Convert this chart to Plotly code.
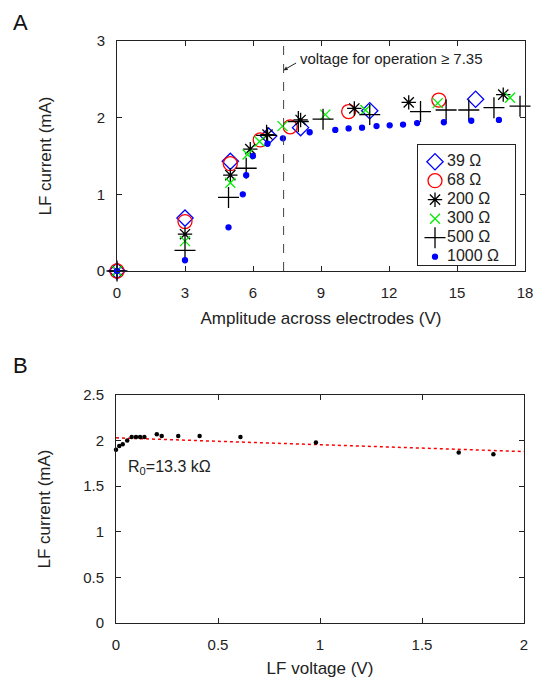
import plotly.graph_objects as go

# Panel A: LF current vs amplitude across electrodes, per load resistor
x_39 = [0, 3, 5, 6.69, 8.1, 11.15, 15.82]
y_39 = [0, 0.69, 1.43, 1.76, 1.87, 2.09, 2.24]

x_68 = [0, 3, 5, 6.32, 7.64, 10.22, 14.2]
y_68 = [0, 0.645, 1.40, 1.71, 1.88, 2.08, 2.23]

x_200 = [0, 3, 5, 5.88, 6.64, 8.1, 10.47, 12.87, 17.04]
y_200 = [0, 0.48, 1.25, 1.59, 1.78, 1.97, 2.12, 2.20, 2.30]

x_300 = [0, 3, 5, 5.76, 6.29, 7.3, 9.19, 10.96, 14.15, 17.34]
y_300 = [0, 0.39, 1.15, 1.52, 1.69, 1.89, 2.04, 2.10, 2.19, 2.26]

x_500 = [0, 3, 4.92, 5.7, 6.6, 8.0, 9.09, 11.15, 13.39, 14.52, 15.52, 16.63, 17.78]
y_500 = [0, 0.27, 0.96, 1.34, 1.77, 1.95, 1.98, 2.04, 2.08, 2.10, 2.10, 2.13, 2.15]

x_1000 = [0, 3, 4.92, 5.55, 5.7, 6.0, 6.64, 7.32, 8.5, 9.63, 10.22, 10.81,
          11.45, 12.03, 12.62, 13.24, 14.42, 15.63, 16.85]
y_1000 = [0, 0.14, 0.57, 1.00, 1.25, 1.50, 1.66, 1.73, 1.81, 1.84, 1.86, 1.87,
          1.89, 1.90, 1.91, 1.93, 1.94, 1.96, 1.97]

threshold = 7.35

# Panel B: LF current vs LF voltage
lf_v = [0, 0.016, 0.033, 0.055, 0.077, 0.098, 0.118, 0.139, 0.2, 0.224,
        0.305, 0.41, 0.61, 0.98, 1.68, 1.85]
lf_i = [1.90, 1.94, 1.96, 2.00, 2.04, 2.04, 2.04, 2.04, 2.07, 2.05,
        2.05, 2.05, 2.04, 1.98, 1.87, 1.85]
fit_v = [0, 2]
fit_i = [2.03, 1.88]

FONT = "Liberation Sans, Arial, sans-serif"

series = [
    ("39 Ω", x_39, y_39, "diamond-open", "#0000ff", 12.5),
    ("68 Ω", x_68, y_68, "circle-open", "#ff0000", 14),
    ("200 Ω", x_200, y_200, "asterisk-open", "#000000", 12),
    ("300 Ω", x_300, y_300, "x-thin-open", "#00ee00", 10),
    ("500 Ω", x_500, y_500, "cross-thin-open", "#000000", 15),
    ("1000 Ω", x_1000, y_1000, "circle", "#0000ff", 5),
]

fig = go.Figure()
for i, (name, xs, ys, sym, col, size) in enumerate(series):
    mk = dict(symbol=sym, color=col, size=size, line=dict(color=col, width=1.3))
    fig.add_trace(go.Scatter(x=xs, y=ys, mode="markers", name=name, marker=mk,
                             xaxis="x", yaxis="y", showlegend=False, cliponaxis=False))
    # hand-drawn legend row (overlay axes x3/y3, one row per series)
    fig.add_trace(go.Scatter(x=[17], y=[i], mode="markers", marker=mk,
                             xaxis="x3", yaxis="y3", showlegend=False, hoverinfo="skip"))
    fig.add_trace(go.Scatter(x=[29], y=[i], mode="text", text=[name],
                             textposition="middle right",
                             textfont=dict(family=FONT, size=16, color="#222"),
                             xaxis="x3", yaxis="y3", showlegend=False, hoverinfo="skip"))

fig.add_trace(go.Scatter(
    x=fit_v, y=fit_i, mode="lines", showlegend=False,
    line=dict(color="#ff0000", width=1.5, dash="dot"), xaxis="x2", yaxis="y2"))
fig.add_trace(go.Scatter(
    x=lf_v, y=lf_i, mode="markers", showlegend=False, cliponaxis=False,
    marker=dict(color="black", size=4.5), xaxis="x2", yaxis="y2"))

axis_common = dict(
    showline=True, linecolor="#222", linewidth=1, mirror="ticks",
    ticks="inside", ticklen=5, tickcolor="#222", showgrid=False, zeroline=False,
    tickfont=dict(family=FONT, size=15, color="#222"), ticklabelstandoff=8,
    automargin=False, ticklabeloverflow="allow",
)
legend_axis = dict(showline=True, linecolor="#222", linewidth=1, mirror=True,
                   showticklabels=False, ticks="", showgrid=False, zeroline=False,
                   automargin=False, fixedrange=True)

fig.update_layout(
    width=533, height=683,
    margin=dict(l=0, r=0, t=0, b=0, autoexpand=False),
    plot_bgcolor="white", paper_bgcolor="white",
    font=dict(family=FONT, color="#222"),
    showlegend=False,
    xaxis=dict(domain=[117 / 533, 525 / 533], range=[0, 18], tickvals=[0, 3, 6, 9, 12, 15, 18],
               title=dict(text="Amplitude across electrodes (V)", font=dict(size=17), standoff=12),
               anchor="y", **axis_common),
    yaxis=dict(domain=[1 - 271 / 683, 1 - 41 / 683], range=[0, 3], tickvals=[0, 1, 2, 3],
               title=dict(text="LF current (mA)", font=dict(size=17), standoff=40),
               anchor="x", **axis_common),
    xaxis2=dict(domain=[116 / 533, 524 / 533], range=[0, 2], tickvals=[0, 0.5, 1, 1.5, 2],
                title=dict(text="LF voltage (V)", font=dict(size=17), standoff=10),
                anchor="y2", **axis_common),
    yaxis2=dict(domain=[1 - 623 / 683, 1 - 395 / 683], range=[0, 2.5],
                tickvals=[0, 0.5, 1, 1.5, 2, 2.5],
                title=dict(text="LF current (mA)", font=dict(size=17), standoff=28),
                anchor="x2", **axis_common),
    xaxis3=dict(domain=[418 / 533, 515 / 533], range=[0, 97], anchor="y3", **legend_axis),
    yaxis3=dict(domain=[1 - 265 / 683, 1 - 145 / 683], range=[5.44, -0.88], anchor="x3",
                **legend_axis),
)

fig.add_shape(type="line", xref="x", yref="y", x0=threshold, x1=threshold, y0=0, y1=3,
              line=dict(color="#444", width=1, dash="dash"))

fig.add_annotation(x=threshold, y=2.62, xref="x", yref="y", ax=14, ay=-8,
                   text="", showarrow=True, arrowhead=2, arrowsize=0.8, arrowwidth=1,
                   arrowcolor="#222")
fig.add_annotation(x=0.56, y=1 - 59 / 683, xref="paper", yref="paper",
                   text="voltage for operation ≥ 7.35", showarrow=False,
                   xanchor="left", yanchor="middle",
                   font=dict(family=FONT, size=15, color="#222"))

fig.add_annotation(x=0.02, y=1 - 23 / 683, xref="paper", yref="paper", text="A",
                   showarrow=False, xanchor="left", yanchor="middle",
                   font=dict(family=FONT, size=22, color="#111"))
fig.add_annotation(x=0.02, y=1 - 365 / 683, xref="paper", yref="paper", text="B",
                   showarrow=False, xanchor="left", yanchor="middle",
                   font=dict(family=FONT, size=22, color="#111"))

fig.add_annotation(x=0.05, y=1.7, xref="x2", yref="y2", text="R<sub>0</sub>=13.3 kΩ",
                   showarrow=False, xanchor="left", yanchor="middle",
                   font=dict(family=FONT, size=16, color="#222"))

fig.write_html("out.html", config={"displayModeBar": False},
               post_script="document.body.style.margin='0';")
